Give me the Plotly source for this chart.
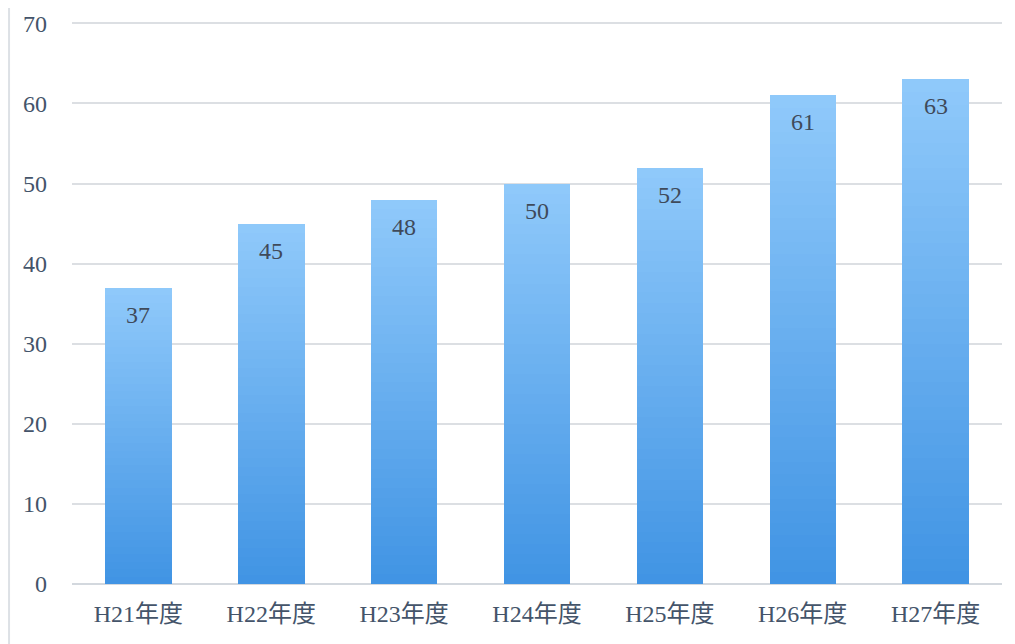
import plotly.graph_objects as go
import numpy as np

categories = ["H21年度", "H22年度", "H23年度", "H24年度", "H25年度", "H26年度", "H27年度"]
values = [37, 45, 48, 50, 52, 61, 63]
y_ticks = [0, 10, 20, 30, 40, 50, 60, 70]

top_rgb = np.array([145, 202, 251])
bot_rgb = np.array([64, 148, 228])
N = 40

SERIF = "Liberation Serif, Noto Sans CJK JP"

fig = go.Figure()
vals = np.array(values, dtype=float)
for i in range(N):
    t = (i + 0.5) / N  # 0 bottom -> 1 top
    c = bot_rgb + (top_rgb - bot_rgb) * t
    color = "rgb(%d,%d,%d)" % tuple(c.astype(int))
    fig.add_trace(go.Bar(
        x=categories, y=vals / N,
        marker=dict(color=color, line=dict(width=0)),
        showlegend=False, hoverinfo="skip",
    ))

for cat, v in zip(categories, values):
    fig.add_annotation(x=cat, y=v, text=str(v), showarrow=False,
                       yshift=-27, yanchor="middle",
                       font=dict(family=SERIF, size=24, color="#3f4a5a"))

fig.add_shape(type="line", xref="paper", yref="paper", x0=-0.0677, x1=-0.0677, y0=-0.2, y1=1.05,
              line=dict(color="#dde1e6", width=2))

fig.update_layout(
    width=1015, height=644,
    margin=dict(l=64, r=21, t=13, b=68),
    barmode="stack", bargap=0.5,
    plot_bgcolor="white", paper_bgcolor="white",
    font=dict(family=SERIF, size=24, color="#44546a"),
    xaxis=dict(showgrid=False, showline=False, ticks="", automargin=False,
               tickfont=dict(size=24), ticklabelstandoff=13),
    yaxis=dict(range=[0, 70.3], tickvals=y_ticks, showgrid=True, gridcolor="#dcdfe3",
               gridwidth=1.5, zeroline=True, zerolinecolor="#d3d8de", zerolinewidth=1.5,
               ticks="", ticklabelstandoff=24, automargin=False, tickfont=dict(size=24)),
)

fig.write_html("out.html")
